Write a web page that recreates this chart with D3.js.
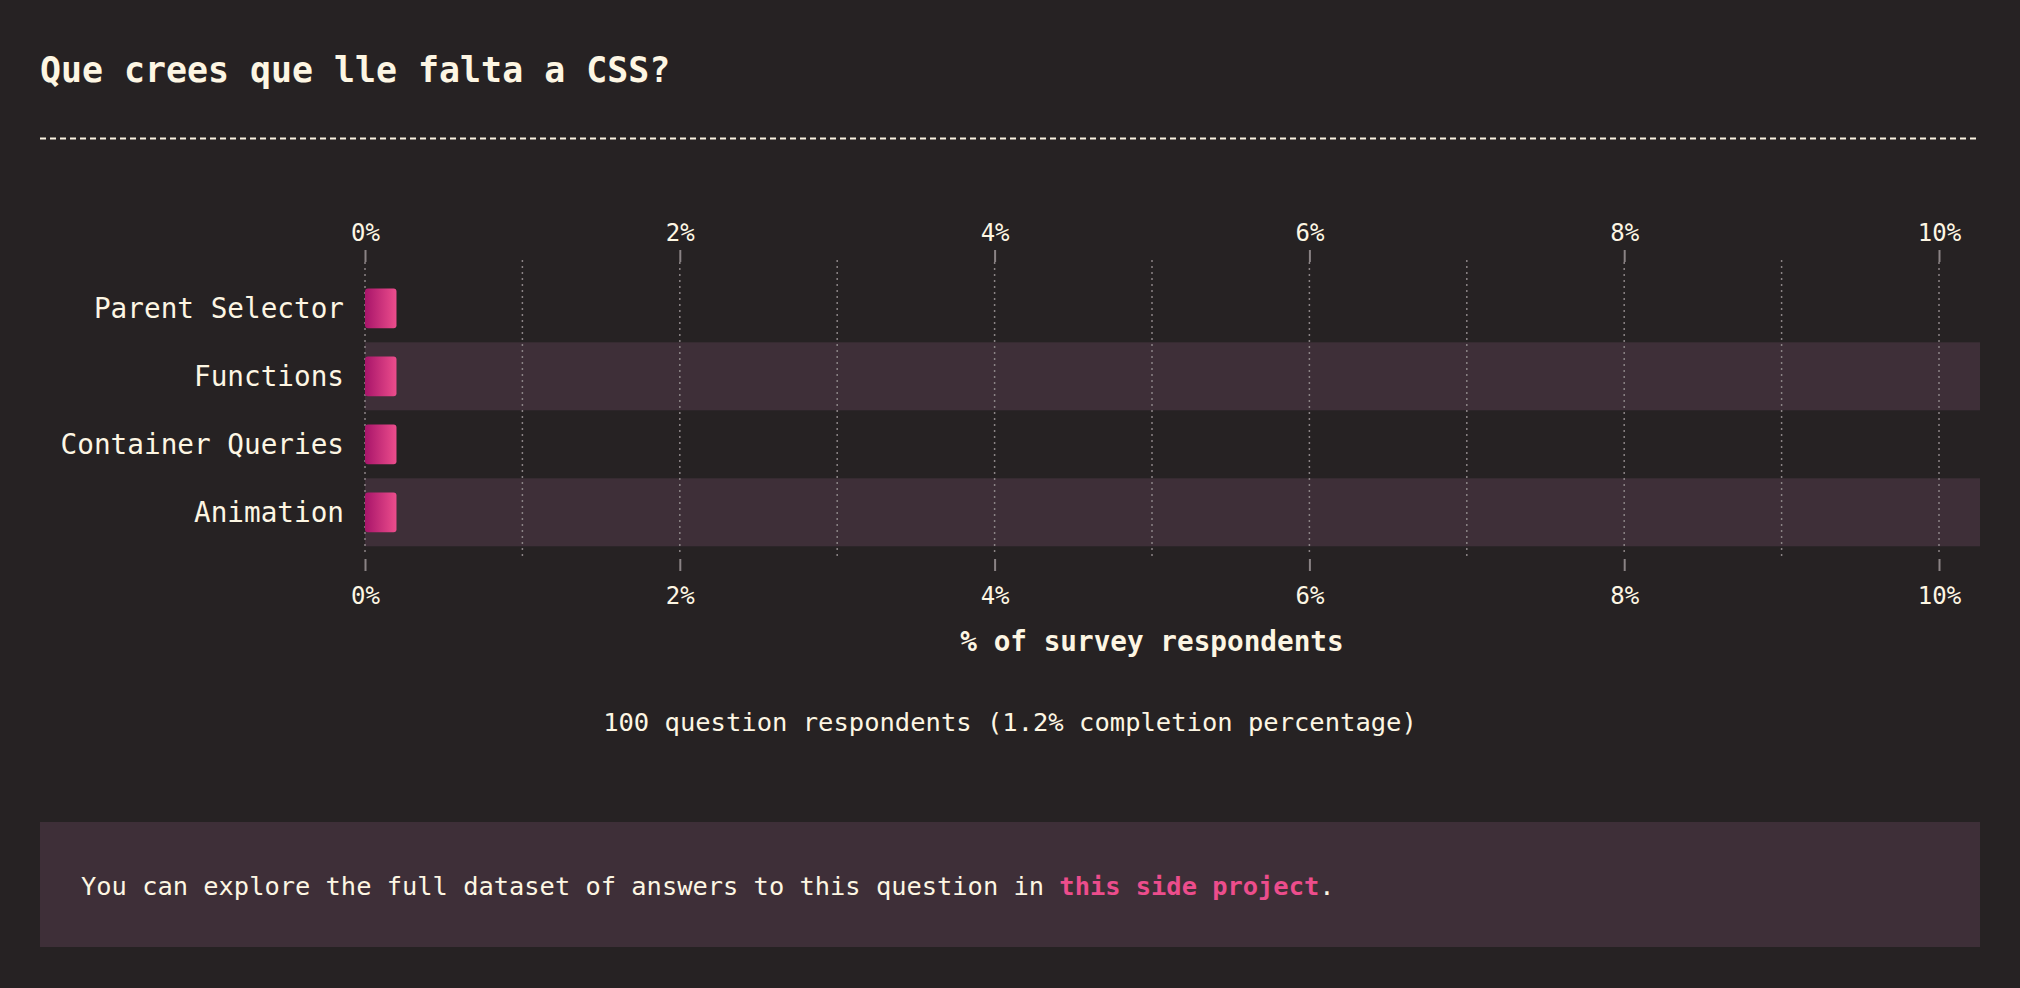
<!DOCTYPE html>
<html>
<head>
<meta charset="utf-8">
<script src="https://cdn.jsdelivr.net/npm/d3@7"></script>
<style>
  html, body { margin: 0; padding: 0; background: #262223; }
  svg { display: block; }
  text { font-family: "DejaVu Sans Mono", "Liberation Mono", monospace; fill: #fdf6e3; }
</style>
</head>
<body>
<svg id="chart" width="2020" height="988"></svg>
<script>
const title = "Que crees que lle falta a CSS?";
const categories = ["Parent Selector", "Functions", "Container Queries", "Animation"];
const values = [0.2, 0.2, 0.2, 0.2];
const tickValues = [0, 2, 4, 6, 8, 10];
const gridValues = [1, 3, 5, 7, 9];
const axisTitle = "% of survey respondents";
const note = "100 question respondents (1.2% completion percentage)";
const footerText = "You can explore the full dataset of answers to this question in ";
const footerLink = "this side project";
const footerEnd = ".";

const W = 2020, H = 988;
const svg = d3.select("#chart");
svg.append("rect").attr("width", W).attr("height", H).attr("fill", "#262223");

const defs = svg.append("defs");
const grad = defs.append("linearGradient").attr("id", "barGrad")
  .attr("x1", "0%").attr("x2", "100%").attr("y1", "0%").attr("y2", "0%");
grad.append("stop").attr("offset", "0%").attr("stop-color", "#a8156a");
grad.append("stop").attr("offset", "100%").attr("stop-color", "#ec4d8c");

// Title
svg.append("text").attr("x", 40).attr("y", 70).attr("dy", "0.35em")
  .attr("font-size", 34.9).attr("font-weight", "bold").text(title);
svg.append("line").attr("x1", 40).attr("x2", 1980).attr("y1", 138.5).attr("y2", 138.5)
  .attr("stroke", "#fdf6e3").attr("stroke-width", 2).attr("stroke-dasharray", "6,4");

// Scales
const x = d3.scaleLinear().domain([0, 10]).range([365, 1939]);
const y = d3.scaleBand().domain(categories).range([274.3, 546.3]).paddingInner(0).paddingOuter(0);
const bandRight = 1980;
const barH = y.bandwidth() * 0.585;

// Row bands
svg.append("g").selectAll("rect").data(categories.filter((d, i) => i % 2 === 1)).join("rect")
  .attr("x", x(0)).attr("width", bandRight - x(0))
  .attr("y", d => y(d)).attr("height", y.bandwidth())
  .attr("fill", "#3e2f38");

// Gridlines
const gridTop = 262, gridBottom = 554;
svg.append("g").selectAll("line").data(tickValues).join("line")
  .attr("x1", d => x(d)).attr("x2", d => x(d))
  .attr("y1", gridTop).attr("y2", gridBottom)
  .attr("stroke", "#8a8385").attr("stroke-width", 1.5).attr("stroke-dasharray", "2,4");
svg.append("g").selectAll("line").data(gridValues).join("line")
  .attr("x1", d => x(d)).attr("x2", d => x(d))
  .attr("y1", 260).attr("y2", 556)
  .attr("stroke", "#8a8385").attr("stroke-width", 1.5).attr("stroke-dasharray", "2,4");

// Axes
const fmt = d => d + "%";
const topAxis = svg.append("g").attr("transform", "translate(0,262)")
  .call(d3.axisTop(x).tickValues(tickValues).tickFormat(fmt).tickSize(12).tickPadding(9));
const botAxis = svg.append("g").attr("transform", "translate(0,559)")
  .call(d3.axisBottom(x).tickValues(tickValues).tickFormat(fmt).tickSize(12).tickPadding(16));
[topAxis, botAxis].forEach(g => {
  g.select(".domain").remove();
  g.selectAll(".tick line").attr("stroke", "#8a8385").attr("stroke-width", 2);
  g.selectAll(".tick text").attr("fill", "#fdf6e3").attr("font-size", 24)
    .attr("font-family", "DejaVu Sans Mono, monospace");
});

// Bars
svg.append("g").selectAll("rect").data(categories).join("rect")
  .attr("x", x(0))
  .attr("y", d => y(d) + (y.bandwidth() - barH) / 2)
  .attr("width", (d, i) => x(values[i]) - x(0))
  .attr("height", barH)
  .attr("rx", 3).attr("ry", 3)
  .attr("fill", "url(#barGrad)");

// Category labels
svg.append("g").selectAll("text").data(categories).join("text")
  .attr("x", x(0) - 21)
  .attr("y", d => y(d) + y.bandwidth() / 2)
  .attr("dy", "0.35em")
  .attr("text-anchor", "end")
  .attr("font-size", 27.7)
  .text(d => d);

// Axis title
svg.append("text").attr("x", (x.range()[0] + x.range()[1]) / 2).attr("y", 641).attr("dy", "0.35em")
  .attr("text-anchor", "middle").attr("font-size", 27.7).attr("font-weight", "bold").text(axisTitle);

// Note
svg.append("text").attr("x", W / 2).attr("y", 722).attr("dy", "0.35em")
  .attr("text-anchor", "middle").attr("font-size", 25.5).attr("fill", "#e6dfcf").text(note);

// Footer box
svg.append("rect").attr("x", 40).attr("y", 822).attr("width", 1940).attr("height", 125).attr("fill", "#3e2f38");
const ft = svg.append("text").attr("x", 81).attr("y", 886).attr("dy", "0.35em").attr("font-size", 25.4);
ft.append("tspan").text(footerText);
ft.append("tspan").attr("font-weight", "bold").style("fill", "#ec4d8c").text(footerLink);
ft.append("tspan").text(footerEnd);
</script>
</body>
</html>
